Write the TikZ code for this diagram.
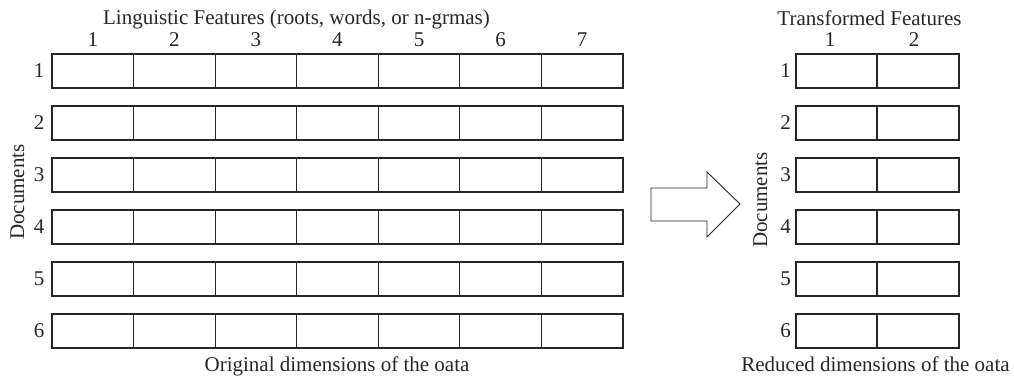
\documentclass[tikz,border=0pt]{standalone}
\usepackage{fontspec}
\setmainfont{Liberation Serif}
\usetikzlibrary{calc}
\begin{document}
\begin{tikzpicture}[x=1pt,y=-1pt,
  rowbox/.style={draw=black!85,line width=1.1pt,anchor=north west,minimum height=34pt,inner sep=0pt,outer sep=0pt},
  sep/.style={draw=black!85,line width=1.1pt},
  lbl/.style={font=\fontsize{21}{24}\selectfont,inner sep=0pt,text=black!85},
  bigarrow/.style={draw=black!85,line width=0.9pt,line join=miter}]
\useasboundingbox (0,0) rectangle (1014,385);
% left grid
\foreach \r in {1,...,6} {
  \pgfmathsetmacro\yt{54+(\r-1)*52}
  \node[rowbox,minimum width=571pt] (A\r) at (52,\yt) {};
  \foreach \c in {1,...,6} {
    \draw[sep] ($(A\r.north west)+({\c*81.57},0)$) -- ($(A\r.south west)+({\c*81.57},0)$);
  }
  \node[lbl,anchor=east] (AL\r) at (44.5,{\yt+17}) {\r};
  \node[rowbox,minimum width=163pt] (B\r) at (796,\yt) {};
  \draw[sep] ($(B\r.north west)+(81,0)$) -- ($(B\r.south west)+(81,0)$);
  \node[lbl,anchor=east] (BL\r) at (791,{\yt+17}) {\r};
}
\foreach \c in {1,...,7} {
  \node[lbl,anchor=base] (AC\c) at ({52+(\c-0.5)*81.57},47) {\c};
}
\node[lbl,anchor=base] (BC1) at (830,47) {1};
\node[lbl,anchor=base] (BC2) at (914,47) {2};
% titles
\node[lbl,anchor=base] (titleA) at (296.5,25) {Linguistic Features (roots, words, or n-grmas)};
\node[lbl,anchor=base] (titleB) at (869.5,26) {Transformed Features};
\node[lbl,anchor=base] (capA) at (337,371) {Original dimensions of the oata};
\node[lbl,anchor=base] (capB) at (875.5,371) {Reduced dimensions of the oata};
\node[lbl,anchor=base,rotate=90] (docA) at (24,192) {Documents};
\node[lbl,anchor=base,rotate=90] (docB) at (767,200) {Documents};
% arrow
\coordinate (arrT) at (651,204);
\coordinate (arrH) at (740,204);
\draw[bigarrow] (651,188) -- (707,188) -- (707,172) -- (arrH) -- (707,237) -- (707,221) -- (651,221) -- cycle;
\end{tikzpicture}
\end{document}
